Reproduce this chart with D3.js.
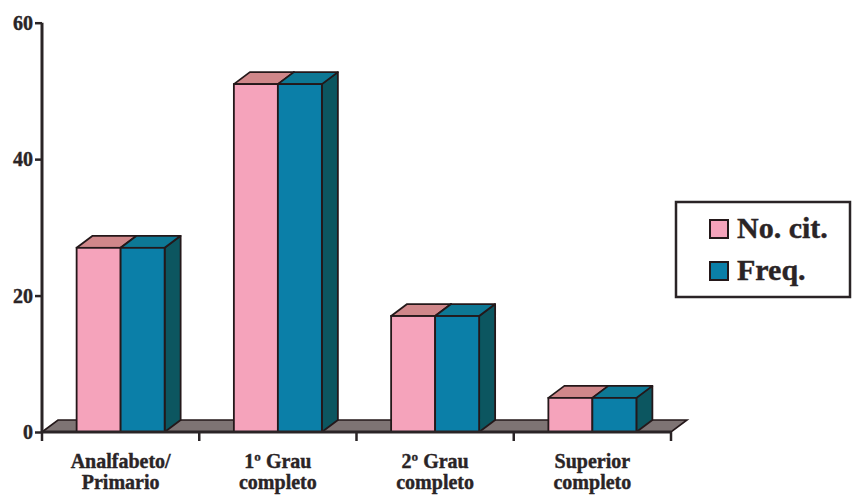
<!DOCTYPE html>
<html>
<head>
<meta charset="utf-8">
<script src="https://cdn.jsdelivr.net/npm/d3@7"></script>
<style>
  html, body { margin: 0; padding: 0; background: #ffffff; }
  svg { display: block; }
  text { font-family: "Liberation Serif", "Times New Roman", serif; font-weight: bold; fill: #2a2426; stroke: #2a2426; stroke-width: 0.4px; }
</style>
</head>
<body>
<svg id="chart" width="852" height="495"></svg>
<script>
// Education level categories (two-line labels)
const categories = ["Analfabeto/\nPrimario", "1º Grau\ncompleto", "2º Grau\ncompleto", "Superior\ncompleto"];
// Series values
const noCitValues = [27, 51, 17, 5];
const freqValues = [27, 51, 17, 5];
const seriesNames = ["No. cit.", "Freq."];
const yTicks = [0, 20, 40, 60];

const colors = {
  "No. cit.": { front: "#f5a3bb", top: "#d0878a", side: "#c9798a" },
  "Freq.":    { front: "#0b7fa8", top: "#0d7895", side: "#0c5660" }
};
const stroke = "#24181a";
const depthX = 16, depthY = 12;

const svg = d3.select("#chart");

const plot = { left: 42, right: 671, top: 22.7, bottom: 432 };

const y = d3.scaleLinear().domain([0, 60]).range([plot.bottom, plot.top]);
const x0 = d3.scaleBand().domain(categories).range([plot.left, plot.right]).padding(0);
const barW = 44;
const x1 = d3.scaleBand().domain(seriesNames)
  .range([(x0.bandwidth() - 2 * barW) / 2, (x0.bandwidth() + 2 * barW) / 2]).padding(0);

// Floor slab
const fl = plot.left, fr = plot.right;
svg.append("path")
  .attr("d", `M${fl},${plot.bottom} L${fl + depthX},${plot.bottom - depthY} L${fr + depthX},${plot.bottom - depthY} L${fr},${plot.bottom} Z`)
  .attr("fill", "#7e7474")
  .attr("stroke", stroke)
  .attr("stroke-width", 1.6);

// Bars
const data = categories.map((c, i) => ({ cat: c, values: [
  { name: "No. cit.", value: noCitValues[i] },
  { name: "Freq.", value: freqValues[i] }
]}));

const groups = svg.append("g").selectAll("g")
  .data(data).join("g")
  .attr("transform", d => `translate(${x0(d.cat)},0)`);

groups.each(function(d) {
  const g = d3.select(this);
  d.values.forEach(v => {
    const bx = x1(v.name), by = y(v.value), bb = y(0);
    const c = colors[v.name];
    // right side face
    g.append("path")
      .attr("d", `M${bx + barW},${bb} L${bx + barW + depthX},${bb - depthY} L${bx + barW + depthX},${by - depthY} L${bx + barW},${by} Z`)
      .attr("fill", c.side).attr("stroke", stroke).attr("stroke-width", 1.8).attr("stroke-linejoin", "round");
    // top face
    g.append("path")
      .attr("d", `M${bx},${by} L${bx + depthX},${by - depthY} L${bx + barW + depthX},${by - depthY} L${bx + barW},${by} Z`)
      .attr("fill", c.top).attr("stroke", stroke).attr("stroke-width", 1.8).attr("stroke-linejoin", "round");
    // front face
    g.append("rect")
      .attr("x", bx).attr("y", by).attr("width", barW).attr("height", bb - by)
      .attr("fill", c.front).attr("stroke", stroke).attr("stroke-width", 1.8);
  });
});

// Y axis
const yAxis = svg.append("g")
  .attr("transform", `translate(${plot.left},0)`)
  .call(d3.axisLeft(y).tickValues(yTicks).tickSize(7).tickPadding(2).tickFormat(d3.format("d")));
yAxis.select(".domain").attr("stroke", "#2a2426").attr("stroke-width", 3).attr("d", `M0,${plot.top}V${plot.bottom}`);
yAxis.selectAll(".tick line").attr("stroke", "#2a2426").attr("stroke-width", 2.5);
yAxis.selectAll(".tick text").attr("font-size", 20).attr("fill", "#2a2426")
  .attr("font-family", "Liberation Serif, serif").attr("font-weight", "bold").attr("dy", "0.34em");

// X axis: baseline with ticks at category boundaries
const boundaries = categories.map(c => x0(c)).concat([x0.range()[1]]);
const xAxis = svg.append("g");
xAxis.append("line")
  .attr("x1", plot.left).attr("x2", plot.right)
  .attr("y1", plot.bottom).attr("y2", plot.bottom)
  .attr("stroke", "#2a2426").attr("stroke-width", 3);
xAxis.selectAll("line.tick").data(boundaries).join("line")
  .attr("class", "tick")
  .attr("x1", d => d).attr("x2", d => d)
  .attr("y1", plot.bottom).attr("y2", plot.bottom + 9)
  .attr("stroke", "#2a2426").attr("stroke-width", 2.5);

// Category labels
const labels = xAxis.selectAll("text.cat").data(categories).join("text")
  .attr("class", "cat")
  .attr("text-anchor", "middle")
  .attr("font-size", 20);
labels.each(function(d) {
  const t = d3.select(this);
  d.split("\n").forEach((line, i) => {
    t.append("tspan")
      .attr("x", x0(d) + x0.bandwidth() / 2)
      .attr("y", 468 + i * 21)
      .text(line);
  });
});

// Legend
const legend = svg.append("g");
legend.append("rect")
  .attr("x", 676).attr("y", 202).attr("width", 174).attr("height", 95)
  .attr("fill", "#ffffff").attr("stroke", "#2a2426").attr("stroke-width", 2.5);
const items = legend.selectAll("g.item").data(seriesNames).join("g")
  .attr("class", "item")
  .attr("transform", (d, i) => `translate(710,${220 + i * 42})`);
items.append("rect")
  .attr("width", 18).attr("height", 18)
  .attr("fill", d => colors[d].front)
  .attr("stroke", stroke).attr("stroke-width", 2);
items.append("text")
  .attr("x", 27).attr("y", 18)
  .attr("font-size", 30)
  .text(d => d);
</script>
</body>
</html>
